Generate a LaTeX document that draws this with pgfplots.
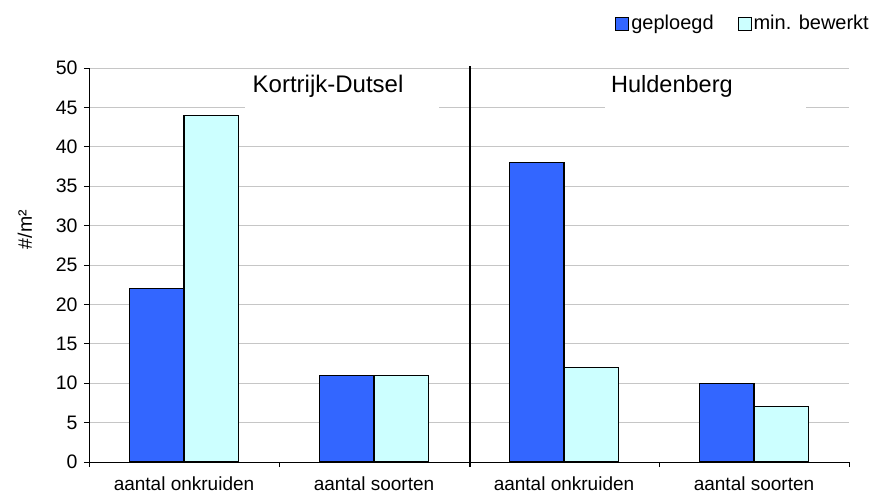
\documentclass[border=0pt]{standalone}
\usepackage{pgfplots}
\pgfplotsset{compat=1.18}
\usepackage{fontspec}
\setmainfont{Liberation Sans}
\definecolor{dblue}{HTML}{3366FF}
\definecolor{lcyan}{HTML}{CCFFFF}
\pgfplotsset{sqlegend/.style={legend image code/.code={\draw[##1,line width=0.9pt] (0pt,-6.5pt) rectangle (13pt,6.5pt);}}}
\begin{document}
\begin{tikzpicture}
\begin{axis}[
  scale only axis, width=760pt, height=394pt,
  xmin=-0.5, xmax=3.5, ymin=0, ymax=50,
  axis x line*=bottom, axis y line*=left,
  axis line style={-, black, line width=0.9pt},
  ytick={0,5,...,50}, ymajorgrids,
  grid style={gray!45, line width=0.8pt},
  xtick={0,1,2,3},
  xticklabels={aantal onkruiden, aantal soorten, aantal onkruiden, aantal soorten},
  minor xtick={-0.5,0.5,1.5,2.5,3.5},
  major x tick style={draw=none},
  minor x tick style={black, line width=0.9pt},
  major y tick style={black, line width=0.9pt},
  tick align=outside, major tick length=5pt, minor tick length=5pt,
  yticklabel style={font=\fontsize{19.5}{22}\selectfont, xshift=-3pt},
  xticklabel style={font=\fontsize{19}{22}\selectfont, anchor=base, yshift=-24pt},
  /pgf/number format/assume math mode=true,
  ylabel={\#/m²},
  every axis y label/.style={at={(rel axis cs:0,0.59)}, rotate=90, anchor=center, yshift=64pt, font=\fontsize{19.5}{22}\selectfont},
  ybar, bar width=0.287,
  clip=false,
  legend columns=2,
  legend style={at={(rel axis cs:1,1)}, anchor=east, xshift=22pt, yshift=44.5pt,
    draw=none, fill=none, inner sep=0pt, font=\fontsize{20}{22}\selectfont,
    nodes={inner sep=2pt, anchor=west},
    /tikz/every even column/.append style={column sep=22pt}},
]
\fill[white] (axis cs:0.321,44.5) rectangle (axis cs:1.342,49.5);
\fill[white] (axis cs:2.216,44.5) rectangle (axis cs:3.274,49.5);
\addplot[fill=dblue, draw=black, line width=1.1pt, bar shift=-0.1435, sqlegend]
  coordinates {(0,22) (1,11) (2,38) (3,10)};
\addplot[fill=lcyan, draw=black, line width=1.1pt, bar shift=0.1435, sqlegend]
  coordinates {(0,44) (1,11) (2,12) (3,7)};
\legend{geploegd, min. bewerkt}
\draw[black, line width=1.6pt] (axis cs:1.505,-0.6) -- (axis cs:1.505,50.25);
\node[anchor=base, font=\fontsize{24}{26}\selectfont, inner sep=0pt] at (axis cs:0.758,46.83) {Kortrijk-Dutsel};
\node[anchor=base, font=\fontsize{23.5}{26}\selectfont, inner sep=0pt] at (axis cs:2.568,46.83) {Huldenberg};
\end{axis}
\pgfresetboundingbox
\path[use as bounding box] ([xshift=-89pt,yshift=-40pt]current axis.south west) rectangle ([xshift=20pt,yshift=68pt]current axis.north east);
\end{tikzpicture}
\end{document}
